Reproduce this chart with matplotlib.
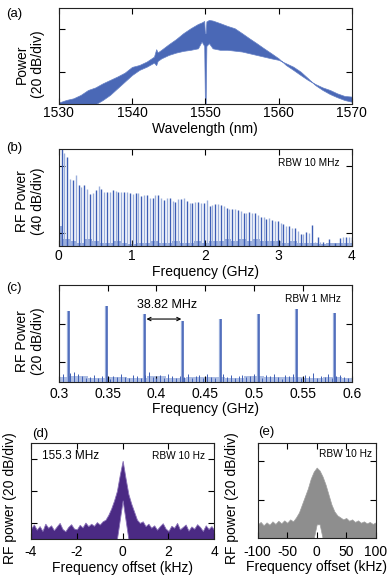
import matplotlib
matplotlib.use('Agg')
import matplotlib.pyplot as plt
import numpy as np

plt.rcParams['font.family'] = ['Liberation Sans', 'DejaVu Sans']
plt.rcParams['axes.unicode_minus'] = False

# ---------------- (a) optical spectrum ----------------
wl = [1530, 1531, 1532, 1533, 1534, 1535, 1536, 1537, 1538, 1539, 1540, 1541, 1542, 1543,
      1543.3, 1543.5, 1544, 1545, 1546, 1547, 1548, 1549, 1549.5, 1549.85, 1549.95, 1550.05,
      1550.15, 1550.5, 1551, 1552, 1553, 1554, 1555, 1556, 1557, 1558, 1559, 1560, 1561, 1562,
      1563, 1564, 1565, 1566, 1567, 1568, 1569, 1570]
opt_upper = [-54.5, -53.3, -52.5, -50.9, -48.6, -47.4, -45.5, -43.9, -42.3, -40.5, -37.8, -36.9,
             -35.3, -33.0, -29.5, -31.0, -29.8, -27.2, -24.8, -22.0, -19.7, -17.7, -17.0, -16.3,
             -22.0, -22.0, -16.5, -15.8, -16.1, -17.3, -18.6, -19.7, -22.0, -24.4, -26.7, -29.1,
             -31.4, -33.8, -36.9, -39.2, -41.6, -43.9, -45.8, -47.4, -48.6, -50.2, -51.4, -51.7]
opt_lower = [-55.3, -55.3, -55.3, -55.3, -55.3, -55.3, -53.3, -50.9, -47.8, -44.7, -41.6, -39.2,
             -37.7, -35.8, -37.0, -35.0, -33.8, -32.2, -31.1, -30.3, -29.8, -29.1, -25.9, -28.0,
             -55.3, -55.3, -28.0, -26.7, -29.1, -29.8, -29.8, -30.2, -30.6, -31.4, -32.2, -33.0,
             -33.8, -34.5, -36.1, -37.7, -40.0, -43.1, -46.3, -48.6, -50.5, -52.0, -53.3, -54.1]

# ---------------- (b) RF spectrum 0-4 GHz ----------------
rep_rate = 0.03882  # GHz
b_peak = [-29.0, -32.0, -34.4, -48.0, -48.4, -45.4, -51.4, -52.4, -51.4, -54.0,
          -56.8, -56.0, -54.4, -52.0, -54.0, -55.4, -55.8, -55.4, -54.6, -55.0,
          -55.4, -55.4, -55.6, -55.8, -56.0, -56.8, -56.4, -56.0, -57.8, -57.2,
          -57.2, -59.4, -59.4, -57.6, -57.6, -59.4, -60.4, -59.0, -59.4, -60.8,
          -61.8, -60.0, -60.0, -59.4, -61.0, -62.4, -62.0, -61.6, -61.8, -62.0,
          -62.0, -60.6, -64.0, -63.6, -63.0, -63.0, -63.6, -64.0, -65.0, -65.6,
          -66.0, -66.0, -66.4, -67.0, -68.0, -68.0, -67.6, -68.0, -68.0, -69.4,
          -70.4, -70.8, -71.8, -71.4, -72.4, -73.0, -73.0, -74.4, -75.0, -75.8,
          -75.8, -77.0, -77.4, -78.8, -81.0, -81.0, -79.4, -80.0, -75.4, -85.4,
          -82.6, -85.4, -85.8, -86.0, -83.8, -86.0, -86.4, -86.4, -83.0, -82.8,
          -82.6, -82.8, -82.6]
b_floor_f = [0.0, 0.1, 0.2, 0.3, 0.4, 0.5, 0.6, 0.7, 0.8, 0.9, 1.0, 1.1, 1.2, 1.3, 1.4,
             1.5, 1.6, 1.7, 1.8, 1.9, 2.0, 2.1, 2.2, 2.3, 2.4, 2.5, 2.6, 2.7, 2.8, 2.9,
             3.0, 3.1, 3.2, 3.3, 3.4, 3.5, 3.6, 3.7, 3.8, 3.9, 4.0]
b_floor = [-76, -84, -85, -86, -84, -85, -86, -86, -85, -86, -87, -86, -86, -85, -86,
           -86, -85, -86, -86, -85, -86, -85, -85, -84, -85, -84, -85, -84, -85, -85,
           -85, -86, -85, -86, -86, -86, -87, -86, -86, -86, -86]

# ---------------- (c) RF spectrum zoom ----------------
c_orders = [8, 9, 10, 11, 12, 13, 14, 15]
c_peak = [-53.6, -51.0, -55.0, -58.8, -57.4, -54.8, -52.4, -54.3]
c_floor = [-87.5, -86.0, -87.8, -85.5, -84.8, -86.2, -87.0, -88.2, -87.6, -86.4,
           -88.0, -86.8, -87.2, -88.4, -86.9, -87.5, -86.0, -87.8, -88.3, -86.6,
           -87.1, -88.0, -86.3, -85.2, -87.4, -88.1, -86.7, -87.9, -86.2, -87.3,
           -88.2, -86.8, -87.4, -86.1, -88.0, -87.2, -86.5, -87.9, -86.0, -87.6,
           -88.3, -86.9, -85.8, -87.4, -86.6, -88.0, -87.1, -86.3, -87.7, -86.8,
           -85.9, -87.3, -88.1, -86.4, -87.0, -86.2, -87.8, -88.4, -86.7, -87.2,
           -86.0, -87.5, -88.0, -86.6, -87.3, -85.7, -87.9, -86.8, -87.4, -86.1,
           -88.2, -87.0, -86.5, -87.7, -88.3, -86.9]
c_floor_light = [-87.8, -87.2, -88.0, -87.5, -87.9, -87.3, -88.1, -87.6,
                 -87.4, -88.0, -87.2, -87.8, -87.5, -88.2, -87.6, -87.9]
c_ticks = [0.3, 0.35, 0.4, 0.45, 0.5, 0.55, 0.6]
c_ticklabels = ['0.3', '0.35', '0.4', '0.45', '0.5', '0.55', '0.6']

# ---------------- (d) beat note 155.3 MHz ----------------
d_upper = [-93.5, -91.0, -94.2, -92.0, -95.0, -90.5, -93.0, -91.5, -94.5, -92.2,
           -90.0, -93.8, -95.2, -92.5, -90.8, -93.5, -94.0, -91.2, -92.8, -89.8,
           -92.0, -90.5, -91.8, -89.5,
           -91.0, -89.0, -88.0, -85.0, -81.0, -76.0, -70.0, -60.0, -51.3, -62.0,
           -72.0, -78.0, -83.0, -88.0, -90.0, -89.0, -92.0,
           -90.5, -93.0, -91.5, -94.2, -92.0, -90.2, -93.5, -95.0, -91.8, -93.0,
           -90.0, -94.0, -92.5, -91.0, -94.8, -92.2, -93.6, -90.8, -92.5, -95.0,
           -91.5, -93.8, -92.0, -94.5]
d_lower = [-100] * 31 + [-88.0, -76.0, -88.0] + [-100] * 31

# ---------------- (e) ----------------
e_upper = [-92.0, -90.8, -92.5, -91.0, -92.2, -90.5, -91.8, -90.2, -91.5, -90.0,
           -91.2, -89.5, -90.5, -88.5, -86.0, -82.0, -78.0, -74.0, -69.0, -65.5,
           -63.5, -65.0, -68.0, -72.0, -77.0, -82.0, -85.5, -87.5, -88.5, -89.5,
           -88.8, -90.2, -89.5, -90.8, -90.0, -91.2, -90.5, -91.5, -90.8, -91.8, -91.0]
e_lower = [-99] * 20 + [-92, -92] + [-99] * 19

blue = '#3d5db4'
light_blue = '#9aaedc'

fig = plt.figure(figsize=(3.92, 5.84), dpi=100)


def style(ax, pad):
    ax.tick_params(direction='in', length=4, width=0.8, top=True, right=True,
                   labelsize=10, pad=pad)
    ax.tick_params(axis='y', labelleft=False)
    for s in ax.spines.values():
        s.set_linewidth(0.8)
        s.set_color('#222222')


# (a)
ax = fig.add_axes([0.1497, 0.8214, 0.748, 0.165])
ax.fill_between(wl, opt_lower, opt_upper, color='#4a68b6', lw=0.5, edgecolor='#6681c6')
ax.set_xlim(1530, 1570)
ax.set_ylim(-55.3, -10.2)
ax.set_xticks([1530, 1540, 1550, 1560, 1570])
ax.set_yticks([-40, -20])
style(ax, 1.5)
ax.set_xlabel('Wavelength (nm)', fontsize=10, labelpad=1)

# (b)
ax = fig.add_axes([0.1497, 0.5788, 0.748, 0.1655])
b_freq = np.arange(1, len(b_peak) + 1) * rep_rate
b_cols = [blue if i % 2 == 0 else light_blue for i in range(len(b_peak))]
ax.fill_between(b_floor_f, -88, b_floor, step='mid', color=light_blue, lw=0)
ax.vlines(b_freq, -88, b_peak, colors=b_cols, lw=1.0)
ax.set_xlim(0, 4)
ax.set_ylim(-88, -30)
ax.set_xticks([0, 1, 2, 3, 4])
ax.set_yticks([-80, -40])
style(ax, 2.5)
ax.set_xlabel('Frequency (GHz)', fontsize=10, labelpad=1)
ax.text(0.959, 0.863, 'RBW 10 MHz', transform=ax.transAxes, ha='right', va='center', fontsize=7.3)

# (c)
ax = fig.add_axes([0.1497, 0.3464, 0.748, 0.1656])
c_light_f = np.linspace(0.3, 0.6, len(c_floor_light))
ax.fill_between(c_light_f, -90, c_floor_light, step='mid', color=light_blue, lw=0, alpha=0.8)
c_floor_f = np.linspace(0.3, 0.6, len(c_floor))
ax.vlines(c_floor_f, -90, c_floor, colors=blue, lw=0.7)
c_freq = np.array(c_orders) * rep_rate
ax.vlines(c_freq - 0.0006, -90, c_peak, colors=light_blue, lw=1.6)
ax.vlines(c_freq, -90, c_peak, colors=blue, lw=1.1)
ax.annotate('', xy=(0.4255, -57.6), xytext=(0.3898, -57.6),
            arrowprops=dict(arrowstyle='<->', lw=0.8, color='k', shrinkA=0, shrinkB=0,
                            mutation_scale=6))
ax.text(0.4108, -50.2, '38.82 MHz', ha='center', va='center', fontsize=9)
ax.set_xlim(0.3, 0.6)
ax.set_ylim(-90, -40)
ax.set_xticks(c_ticks)
ax.set_xticklabels(c_ticklabels)
ax.set_yticks([-80, -60])
style(ax, 3.5)
ax.set_xlabel('Frequency (GHz)', fontsize=10, labelpad=1)
ax.text(0.9625, 0.855, 'RBW 1 MHz', transform=ax.transAxes, ha='right', va='center', fontsize=7.3)

# (d)
ax = fig.add_axes([0.0791, 0.0771, 0.4676, 0.1649])
d_x = np.linspace(-4, 4, len(d_upper))
ax.fill_between(d_x, d_lower, d_upper, color='#4b2a84', lw=0.6, edgecolor='#8a72b8')
ax.set_xlim(-4, 4)
ax.set_ylim(-100, -40)
ax.set_xticks([-4, -2, 0, 2, 4])
ax.set_yticks([-90, -70, -50])
style(ax, 4.5)
ax.set_xlabel('Frequency offset (kHz)', fontsize=10, labelpad=1)
ax.text(0.058, 0.858, '155.3 MHz', transform=ax.transAxes, ha='left', va='center', fontsize=8.5)
ax.text(0.949, 0.866, 'RBW 10 Hz', transform=ax.transAxes, ha='right', va='center', fontsize=7.3)

# (e)
ax = fig.add_axes([0.6574, 0.0783, 0.301, 0.1637])
e_x = np.linspace(-100, 100, len(e_upper))
ax.fill_between(e_x, e_lower, e_upper, color='#8e8e8e', lw=0.5, edgecolor='#a0a0a0')
ax.set_xlim(-100, 100)
ax.set_ylim(-99, -51)
ax.set_xticks([-100, -50, 0, 50, 100])
ax.set_yticks([-80, -60])
style(ax, 4.5)
ax.set_xlabel('Frequency offset (kHz)', fontsize=10, labelpad=1)
ax.text(0.966, 0.88, 'RBW 10 Hz', transform=ax.transAxes, ha='right', va='center', fontsize=7.3)

# y labels and panel letters
fig.text(0.0765, 0.890, 'Power\n(20 dB/div)', rotation=90, ha='center', va='center',
         fontsize=10, multialignment='center')
fig.text(0.0765, 0.656, 'RF Power\n(40 dB/div)', rotation=90, ha='center', va='center',
         fontsize=10, multialignment='center')
fig.text(0.0765, 0.416, 'RF Power\n(20 dB/div)', rotation=90, ha='center', va='center',
         fontsize=10, multialignment='center')
fig.text(0.0255, 0.147, 'RF power (20 dB/div)', rotation=90, ha='center', va='center', fontsize=10)
fig.text(0.591, 0.147, 'RF power (20 dB/div)', rotation=90, ha='center', va='center', fontsize=10)

for lab, x, y in [('(a)', 0.015, 0.976), ('(b)', 0.015, 0.746), ('(c)', 0.015, 0.506),
                  ('(d)', 0.081, 0.257), ('(e)', 0.658, 0.260)]:
    fig.text(x, y, lab, ha='left', va='center', fontsize=9.5)

fig.savefig('out.png', dpi=100)
